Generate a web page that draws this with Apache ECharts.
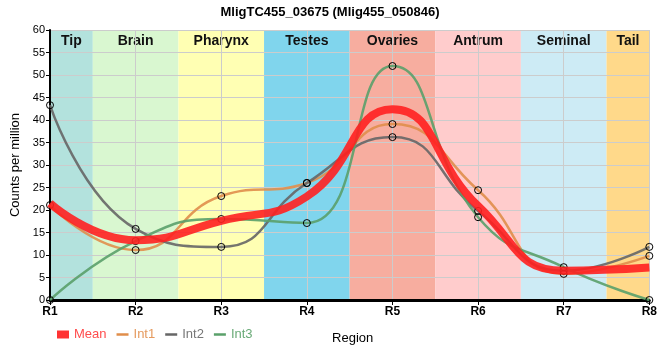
<!DOCTYPE html>
<html><head><meta charset="utf-8">
<script src="https://cdn.jsdelivr.net/npm/echarts@6/dist/echarts.min.js"></script>
<style>html,body{margin:0;padding:0;background:#fff}#c{width:660px;height:360px}</style>
</head><body><div id="c"></div>
<script>
const categories = ['R1','R2','R3','R4','R5','R6','R7','R8'];
const meanVals = [21.5, 13.3, 17.6, 23.0, 42.4, 20.9, 6.5, 7.2];
const int1Vals = [21.1, 11.1, 23.1, 26.0, 39.1, 24.4, 5.8, 9.8];
const int2Vals = [43.3, 15.8, 11.8, 26.0, 36.2, 19.8, 6.5, 11.8];
const int3Vals = [0, 13.1, 18.0, 17.1, 52.0, 18.4, 7.3, 0];
const regions = ['Tip','Brain','Pharynx','Testes','Ovaries','Antrum','Seminal','Tail'];
const regionColors = ['#b3e2dd','#d9f7d0','#ffffb3','#80d5ed','#f7ad9f','#ffcccc','#cdebf5','#ffd98a'];
const yTicks = [0,5,10,15,20,25,30,35,40,45,50,55,60];

const toPts = arr => arr.map((v,i)=>[i+1,v]);
const bands = regions.map((r,i)=>{
  const a = Math.max(1, i+0.5), b = Math.min(8, i+1.5);
  return [{xAxis:a, name:r, itemStyle:{color:regionColors[i]}},{xAxis:b}];
});
const lineIcon = 'path://M0,0L12,0L12,2.5L0,2.5Z';
const markerStyle = {color:'rgba(0,0,0,0)', borderColor:'#000', borderWidth:1};
function intSeries(name, data, color){
  return {name, type:'line', data:toPts(data), smooth:true, symbol:'circle', symbolSize:7,
    lineStyle:{color, width:2.5, opacity:0.9}, itemStyle:markerStyle, z:3, emphasis:{disabled:true}};
}
const chart = echarts.init(document.getElementById('c'));
chart.setOption({
  animation:false,
  title:{text:'MligTC455_03675 (Mlig455_050846)', left:'center', top:1,
    textStyle:{fontSize:13, fontWeight:'bold', color:'#000', fontFamily:'Liberation Sans'}},
  grid:{left:50, right:10, top:30, bottom:60},
  legend:{left:52, top:323, itemWidth:12, itemHeight:8, itemGap:10,
    textStyle:{fontSize:13, fontFamily:'Liberation Sans'},
    data:[
      {name:'Mean', icon:'rect', itemStyle:{color:'#ff3333'}, textStyle:{color:'#ff4d4d'}},
      {name:'Int1', icon:lineIcon, itemStyle:{color:'#e08e4b', borderWidth:0}, textStyle:{color:'#e59a5e'}},
      {name:'Int2', icon:lineIcon, itemStyle:{color:'#666', borderWidth:0}, textStyle:{color:'#777'}},
      {name:'Int3', icon:lineIcon, itemStyle:{color:'#5aa06a', borderWidth:0}, textStyle:{color:'#6aab78'}}
    ]},
  xAxis:{type:'value', min:1, max:8, interval:1, name:'Region', nameLocation:'middle', nameGap:32,
    nameTextStyle:{color:'#000', fontSize:13, fontFamily:'Liberation Sans', padding:[0,0,0,6]},
    axisLine:{lineStyle:{color:'#000', width:3}}, axisTick:{show:true, length:5, lineStyle:{color:'#000', width:1}},
    splitLine:{show:true, lineStyle:{color:'#cccccc', width:1}},
    axisLabel:{color:'#000', fontSize:12, fontWeight:'bold', fontFamily:'Liberation Sans', margin:6,
      formatter:v=>categories[v-1]||''}},
  yAxis:{type:'value', min:0, max:60, interval:5, name:'Counts per million', nameLocation:'middle', nameGap:26,
    nameTextStyle:{color:'#000', fontSize:13, fontFamily:'Liberation Sans'},
    axisLine:{show:true, lineStyle:{color:'#000', width:2}}, axisTick:{show:true, length:4, lineStyle:{color:'#000'}},
    splitLine:{show:true, lineStyle:{color:'#cccccc', width:1}},
    axisLabel:{color:'#000', fontSize:11, fontFamily:'Liberation Sans', margin:5,
      formatter:v=>yTicks.includes(v)?String(v):''}},
  series:[
    {name:'Mean', type:'line', data:toPts(meanVals), smooth:true, symbol:'none', z:4,
      lineStyle:{color:'#ff2020', width:8, opacity:0.9}, itemStyle:{color:'#ff3333'},
      markArea:{silent:true, z:-1, data:bands,
        label:{show:true, position:'insideTop', distance:4, color:'#111', fontSize:14, fontWeight:'bold', fontFamily:'Liberation Sans Narrow, Liberation Sans'}}},
    intSeries('Int1', int1Vals, '#e08e4b'),
    intSeries('Int2', int2Vals, '#666666'),
    intSeries('Int3', int3Vals, '#5aa06a')
  ]
});
</script></body></html>
